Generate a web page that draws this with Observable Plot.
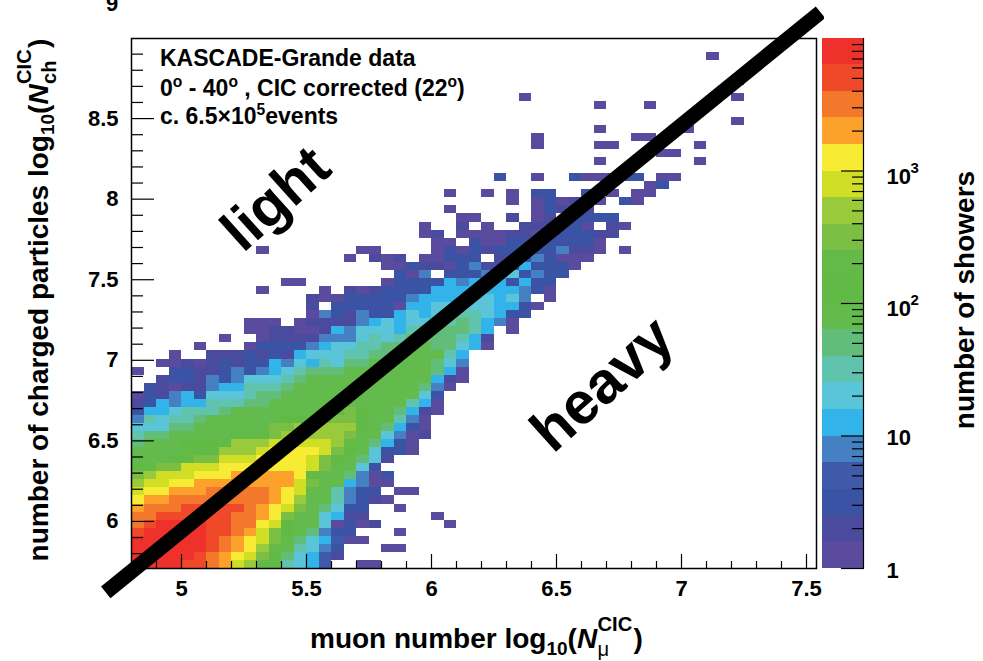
<!DOCTYPE html>
<html>
<head>
<meta charset="utf-8">
<script src="https://cdn.jsdelivr.net/npm/d3@7"></script>
<script src="https://cdn.jsdelivr.net/npm/@observablehq/plot@0.6"></script>
<style>
html,body{margin:0;padding:0;background:#fff}
#page{position:relative;width:983px;height:661px;overflow:hidden;font-family:"Liberation Sans",Arial,sans-serif;font-weight:bold;color:#000}
#page svg{position:absolute;top:0;background:transparent}
.t{position:absolute;white-space:nowrap;line-height:1;z-index:2}
.r{transform:translate(-50%,-50%) rotate(-90deg)}
.stack{display:inline-block;vertical-align:baseline;position:relative;width:1.3em;height:1em}
.stack .u,.stack .d{position:absolute;left:.02em;font-size:.72em;font-style:normal}
.stack .u{top:-.32em}.stack .d{top:.95em}
sup,sub{font-size:.68em;line-height:0}
</style>
</head>
<body>
<div id="page"></div>
<script>
// Axis ticks
const xMajor = [5, 5.5, 6, 6.5, 7, 7.5];
const xMinor = [4.9, 5.1, 5.2, 5.3, 5.4, 5.6, 5.7, 5.8, 5.9, 6.1, 6.2, 6.3, 6.4, 6.6, 6.7, 6.8, 6.9, 7.1, 7.2, 7.3, 7.4];
const yMajor = [6, 6.5, 7, 7.5, 8, 8.5];
const yMinor = [5.8, 5.9, 6.1, 6.2, 6.3, 6.4, 6.6, 6.7, 6.8, 6.9, 7.1, 7.2, 7.3, 7.4, 7.6, 7.7, 7.8, 7.9, 8.1, 8.2, 8.3, 8.4, 8.6, 8.7, 8.8, 8.9];
const xDomain = [4.8, 7.54];
const yDomain = [5.708, 8.997];
const binWidth = 0.05;

// Colour palette, level edges in showers per bin, and a representative count per level
const palette = ["#5b4b9f","#4a4a9f","#3a53a4","#3f5aa9","#4580c2","#32b3e9","#5ac5d9","#5fc3ad","#62bc7a","#63bb4e","#62ba46","#63ba46","#7abf43","#98ca3c","#d1de26","#f7ec33","#fca22c","#f4782b","#f0492a","#ee312b"];
const levelEdges = [1,1.585,2.512,3.981,6.31,10,15.85,25.12,39.81,63.1,100,158.5,251.2,398.1,631,1000,1585,2512,3981,6310,10000];
const levelCounts = [1.2,2,3,5,8,13,20,32,50,80,130,200,320,500,800,1300,2000,3200,5000,8000];
const cbMajor = [1, 10, 100, 1000];
const cbMinor = [2,3,4,5,6,7,8,9,20,30,40,50,60,70,80,90,200,300,400,500,600,700,800,900,2000,3000,4000,5000,6000,7000,8000,9000];

// Histogram rows: [row from bottom, first column, level per cell]
// Level characters 0-9 a-j are the 20 colour steps; "." is an empty bin.
const histRows = [
[0,0,"jjjjiihgedaa7653..00"],
[1,0,"jjjjjihgfeca86531"],
[2,0,"jjjjjjihgfdb97642...00"],
[3,0,"jjjjjjihgfec9865300"],
[4,0,"ijjjjjiihgeca98422...0"],
[5,0,"hijjjjiihhfea9960201.....0"],
[6,0,"hhiiiiiihhgfc996511.....0"],
[7,0,"ghhhiiiiihgfec98622..0"],
[8,0,"fgghhhhhhhhgfd9974210"],
[9,0,"effggghhhhhgfeb97422.00"],
[10,0,"deeffggggggggec995400"],
[11,0,"cdeeefffgggggfb998402"],
[12,0,"abcceeefffffffec9962"],
[13,0,"999abcceeeffffeca9861"],
[14,0,"9999bbbdddeffffeca96220"],
[15,0,"8999aaabdddeeeeedb98520"],
[16,0,"78899999bbbcdddddc996401"],
[17,0,"66688999999ccddddda98520"],
[18,0,"476778999999aaaacca99740"],
[19,0,"255677789999999aaca998510"],
[20,0,"1254557778899999999999750"],
[21,0,"0214526667889999999999962"],
[22,0,".2101145577789999999999840"],
[23,2,"1221424666789999999999510"],
[24,0,"0..221124245678889999999850"],
[25,2,"0010121225465768899999864"],
[26,3,"0..111212156667788999975"],
[27,5,"0...02222456677889988650"],
[28,7,"0..0111144467678888751"],
[29,9,"00110015466657888875.0"],
[30,9,"000.011114565667787540"],
[31,14,"042142256566776522"],
[32,14,"1.22222055666665520"],
[33,14,"100222224555566564.0"],
[34,10,"0....0.10122225555555420"],
[35,12,"00......02222545552522"],
[36,21,"204.2224562422"],
[37,20,"0021102412252220"],
[38,17,"0.101.00222.12242000"],
[39,10,"0.......00....02021222224110.0"],
[40,24,"00.20022122220"],
[41,23,"01.0000110122211"],
[42,23,"0..1.0..111220.10"],
[43,26,"00..1.01.2222"],
[44,25,"0......02111"],
[45,30,"0.020110.20"],
[46,25,"0..0.0.22..2.0.00"],
[47,41,"02"],
[48,29,"2..0..200022.00"],
[50,37,"0.......0"],
[51,42,"00"],
[52,32,"0....00......0"],
[53,32,"0.......00"],
[54,37,"0......0"],
[55,48,"0"],
[57,37,"0...0"],
[58,31,"0................0"],
[60,48,"0"],
[63,46,"0"]
];

// Heavy line separating the light and heavy regions
const lineX = [4.697, 7.556];
const lineY = [5.56, 9.16];

const levelChars = "0123456789abcdefghij";
const cells = [];
for (const [k, start, levels] of histRows) {
  [...levels].forEach((ch, n) => {
    if (ch === ".") return;
    const col = start + n;
    cells.push({
      x1: xDomain[0] + col * binWidth,
      x2: xDomain[0] + (col + 1) * binWidth,
      y1: yDomain[0] + k * binWidth,
      y2: yDomain[0] + (k + 1) * binWidth,
      count: levelCounts[levelChars.indexOf(ch)]
    });
  });
}
const colorScale = {type: "threshold", domain: levelEdges.slice(1, -1), range: palette};
const font = {fontFamily: '"Liberation Sans",Arial,sans-serif', fontWeight: "bold", background: "transparent"};

const main = Plot.plot({
  width: 824, height: 661,
  marginLeft: 131, marginRight: 8, marginTop: 38, marginBottom: 93,
  style: font,
  x: {domain: xDomain, axis: null},
  y: {domain: yDomain, axis: null},
  color: colorScale,
  marks: [
    Plot.rect(cells, {x1: "x1", x2: "x2", y1: "y1", y2: "y2", fill: "count", shapeRendering: "crispEdges"}),
    Plot.frame({stroke: "#000", strokeWidth: 1.5}),
    Plot.axisX({ticks: xMinor, anchor: "bottom", tickSize: -7, text: null, label: null, stroke: "#000", strokeWidth: 1.2}),
    Plot.axisX({ticks: xMajor, anchor: "bottom", tickSize: -14, text: null, label: null, stroke: "#000", strokeWidth: 1.2}),
    Plot.axisX({ticks: xMajor, anchor: "bottom", tickSize: 0, tickPadding: 12, fontSize: 22, label: null, tickFormat: d => String(d), fill: "#000"}),
    Plot.axisY({ticks: yMinor, anchor: "left", tickSize: -12, text: null, label: null, stroke: "#000", strokeWidth: 1.2}),
    Plot.axisY({ticks: yMajor, anchor: "left", tickSize: -23, text: null, label: null, stroke: "#000", strokeWidth: 1.2}),
    Plot.axisY({ticks: yMajor, anchor: "left", tickSize: 0, tickPadding: 13, fontSize: 22, label: null, tickFormat: d => String(d), fill: "#000"}),
    Plot.line(lineX.map((x, i) => ({x, y: lineY[i]})), {x: "x", y: "y", stroke: "#000", strokeWidth: 15, strokeLinecap: "butt", clip: false})
  ]
});
main.style.left = "0px";

const bands = palette.map((_, i) => ({y1: levelEdges[i], y2: levelEdges[i + 1], count: levelCounts[i]}));
const bar = Plot.plot({
  width: 159, height: 661,
  marginLeft: 0, marginRight: 118, marginTop: 38, marginBottom: 93,
  style: font,
  x: {domain: [0, 1], axis: null},
  y: {type: "log", domain: [1, 10000], axis: null},
  color: colorScale,
  marks: [
    Plot.rect(bands, {x1: 0, x2: 1, y1: "y1", y2: "y2", fill: "count", shapeRendering: "crispEdges"}),
    Plot.ruleX([1], {stroke: "#000", strokeWidth: 1.2}),
    Plot.axisY({ticks: cbMinor, anchor: "right", tickSize: -12, text: null, label: null, stroke: "#000", strokeWidth: 1.2}),
    Plot.axisY({ticks: cbMajor, anchor: "right", tickSize: -23, text: null, label: null, stroke: "#000", strokeWidth: 1.2}),
    Plot.text(cbMajor.slice(0, 2), {x: () => 1, y: d => d, text: d => String(d), dx: 23, dy: 2, textAnchor: "start", fontSize: 22}),
    Plot.text(cbMajor.slice(2), {x: () => 1, y: d => d, text: () => "10", dx: 23, dy: 5.5, textAnchor: "start", fontSize: 22}),
    Plot.text(cbMajor.slice(2), {x: () => 1, y: d => d, text: d => String(Math.log10(d)), dx: 47, dy: -3, textAnchor: "start", fontSize: 15})
  ]
});
bar.style.left = "822px";

const page = document.getElementById("page");
page.append(main, bar);

const labels = `
<div class="t" style="left:106px;top:-7px;font-size:22px">9</div>
<div class="t" style="left:160px;top:47px;font-size:23px">KASCADE-Grande data</div>
<div class="t" style="left:160px;top:77px;font-size:23px">0<sup>o</sup> - 40<sup>o</sup> , CIC corrected (22<sup>o</sup>)</div>
<div class="t" style="left:160px;top:105px;font-size:23px">c. 6.5×10<sup>5</sup>events</div>
<div class="t" style="left:275px;top:198px;font-size:58px;transform:translate(-50%,-50%) rotate(-42deg)">light</div>
<div class="t" style="left:602px;top:384px;font-size:59px;transform:translate(-50%,-50%) rotate(-42deg)">heavy</div>
<div class="t" style="left:310px;top:620px;font-size:28px">muon number log<sub>10</sub>(<i>N</i><span class="stack"><span class="u">CIC</span><span class="d" style="font-weight:normal">μ</span></span>)</div>
<div class="t r" style="left:36px;top:300px;font-size:28px">number of charged particles log<sub>10</sub>(<i>N</i><span class="stack"><span class="u">CIC</span><span class="d">ch</span></span>)</div>
<div class="t r" style="left:965px;top:300px;font-size:28px">number of showers</div>`;
page.insertAdjacentHTML("beforeend", labels);
</script>
</body>
</html>
